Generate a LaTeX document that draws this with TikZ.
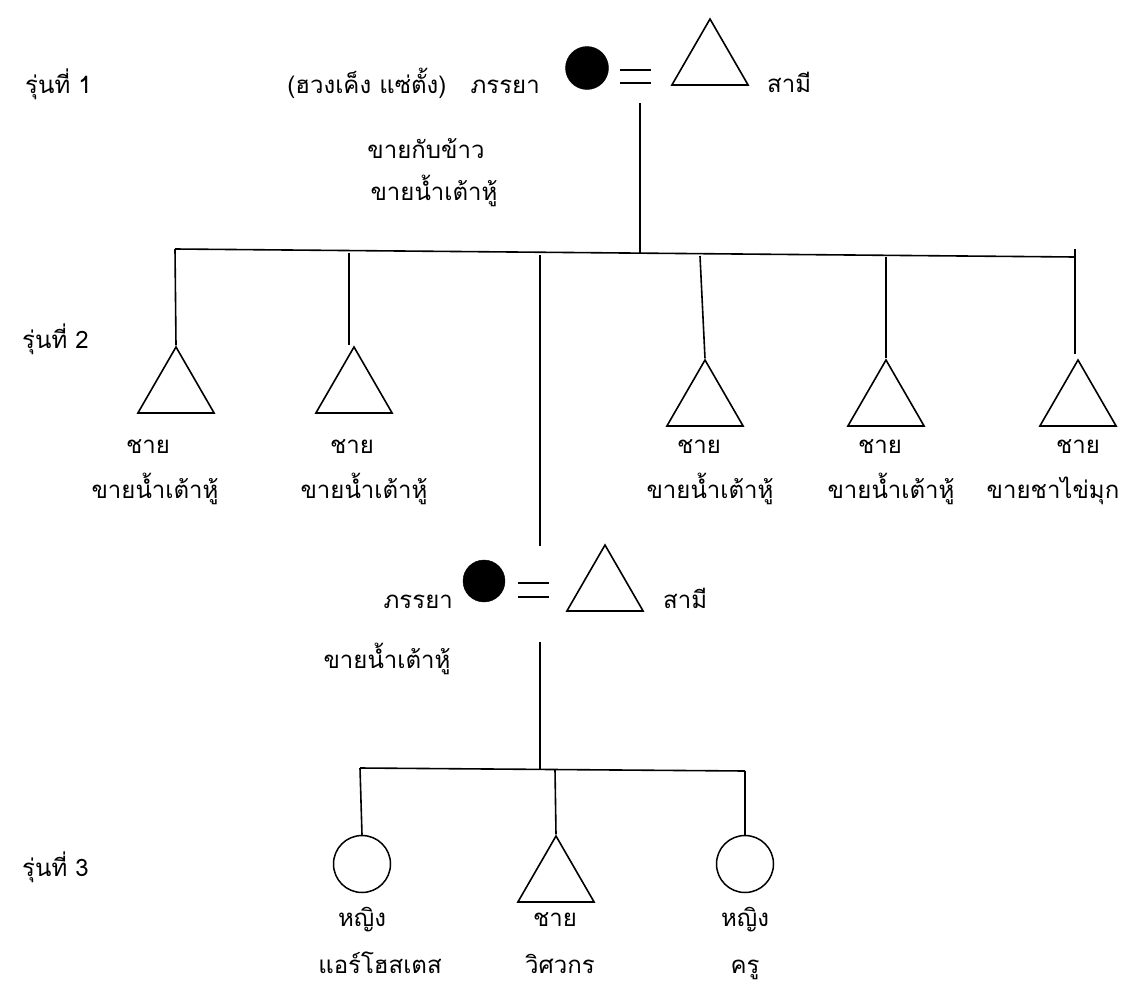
\documentclass[tikz,border=0pt]{standalone}
\usepackage{fontspec}
\newfontfamily\thaifont[Script=Thai]{Loma}
\usetikzlibrary{shapes.geometric}
\tikzset{
  x=1pt, y=-1pt,
  lw/.style={line width=1.6pt, black},
  eqline/.style={line width=2.4pt, black},
  male/.style={regular polygon, regular polygon sides=3, minimum size=88pt, inner sep=0pt, draw, line width=1.6pt},
  female/.style={circle, inner sep=0pt, draw, line width=1.5pt, minimum size=#1},
  wife/.style={circle, inner sep=0pt, fill=black, draw, minimum size=43pt},
  txt/.style={font=\thaifont\fontsize{24}{28}\selectfont, inner sep=0pt, text=black},
}
\begin{document}
\begin{tikzpicture}
\useasboundingbox (0,0) rectangle (1136,988);
\fill[white] (0,0) rectangle (1136,988);

% ---------- generation labels
\node[txt, anchor=base west] (g1) at (25,93) {รุ่นที่ 1};
\node[txt, anchor=base west] (g2) at (22,348) {รุ่นที่ 2};
\node[txt, anchor=base west] (g3) at (22,876) {รุ่นที่ 3};

% ---------- generation 1
\node[wife] (w1) at (587,68) {};
\node[male] (h1) at (710,63) {};
\node[txt, anchor=base east] (w1l) at (540,93) {(ฮวงเค็ง แซ่ตั้ง)\ \ \ ภรรยา};
\node[txt, anchor=base west] (h1l) at (767,92) {สามี};
\node[txt, anchor=base] (w1o1) at (426,158) {ขายกับข้าว};
\node[txt, anchor=base] (w1o2) at (434,200) {ขายน้ำเต้าหู้};
\coordinate (eq1a) at (620,70); \coordinate (eq1b) at (651,70);
\coordinate (eq1c) at (620,83); \coordinate (eq1d) at (651,83);
\draw[eqline] (eq1a) -- (eq1b);
\draw[eqline] (eq1c) -- (eq1d);

\coordinate (c1) at (640,103);
\coordinate (b1) at (640,252.5);
\coordinate (bL) at (175,249);
\coordinate (bR) at (1075,257);
\draw[lw] (c1) -- (b1);
\draw[lw] (bL) -- (bR);

% ---------- generation 2 sons
\node[male] (s1) at (176,391) {};
\node[male] (s2) at (354,391) {};
\node[male] (s4) at (705,404) {};
\node[male] (s5) at (886,404) {};
\node[male] (s6) at (1078,404) {};

\coordinate (d1) at (175,249);
\coordinate (d2) at (349,252.5);
\coordinate (d2e) at (349,345);
\coordinate (d3) at (540,255);
\coordinate (d4) at (700,256);
\coordinate (d5) at (886,256.5);
\coordinate (d6) at (1075,249);
\coordinate (d6e) at (1075,354);
\draw[lw] (d1) -- (s1.north);
\draw[lw] (d2) -- (d2e);
\draw[lw] (d4) -- (s4.north);
\draw[lw] (d5) -- (s5.north);
\draw[lw] (d6) -- (d6e);

\node[txt, anchor=base] (s1a) at (148,453) {ชาย};
\node[txt, anchor=base] (s1b) at (155,498) {ขายน้ำเต้าหู้};
\node[txt, anchor=base] (s2a) at (352,453) {ชาย};
\node[txt, anchor=base] (s2b) at (364,498) {ขายน้ำเต้าหู้};
\node[txt, anchor=base] (s4a) at (699,453) {ชาย};
\node[txt, anchor=base] (s4b) at (710,498) {ขายน้ำเต้าหู้};
\node[txt, anchor=base] (s5a) at (880,453) {ชาย};
\node[txt, anchor=base] (s5b) at (891,498) {ขายน้ำเต้าหู้};
\node[txt, anchor=base] (s6a) at (1078,453) {ชาย};
\node[txt, anchor=base] (s6b) at (1053,498) {ขายชาไข่มุก};

% ---------- generation 2 couple
\node[wife, minimum size=42pt] (w2) at (484,581) {};
\node[male] (h2) at (605,589) {};
\node[txt, anchor=base east] (w2l) at (453,608) {ภรรยา};
\node[txt, anchor=base west] (h2l) at (663,608) {สามี};
\node[txt, anchor=base] (w2o) at (387,668) {ขายน้ำเต้าหู้};
\coordinate (eq2a) at (518,583); \coordinate (eq2b) at (549,583);
\coordinate (eq2c) at (518,597); \coordinate (eq2d) at (549,597);
\draw[eqline] (eq2a) -- (eq2b);
\draw[eqline] (eq2c) -- (eq2d);
\coordinate (d3e) at (540,546);
\draw[lw] (d3) -- (d3e);

\coordinate (c2) at (540,642);
\coordinate (b2) at (540,769);
\draw[lw] (c2) -- (b2);
\coordinate (b2L) at (360,768);
\coordinate (b2R) at (745,771);
\draw[lw] (b2L) -- (b2R);

% ---------- generation 3
\node[female=57pt] (k1) at (362,864) {};
\node[male] (k2) at (556,880) {};
\node[female=57pt] (k3) at (745,864) {};
\coordinate (e1) at (360,768);
\coordinate (e2) at (555,769.5);
\coordinate (e3) at (745,771);
\draw[lw] (e1) -- (k1.north);
\draw[lw] (e2) -- (k2.north);
\draw[lw] (e3) -- (k3.north);

\node[txt, anchor=base] (k1a) at (362,926) {หญิง};
\node[txt, anchor=base] (k1b) at (380,973) {แอร์โฮสเตส};
\node[txt, anchor=base] (k2a) at (555,926) {ชาย};
\node[txt, anchor=base] (k2b) at (560,973) {วิศวกร};
\node[txt, anchor=base] (k3a) at (745,926) {หญิง};
\node[txt, anchor=base] (k3b) at (745,973) {ครู};
\end{tikzpicture}
\end{document}
